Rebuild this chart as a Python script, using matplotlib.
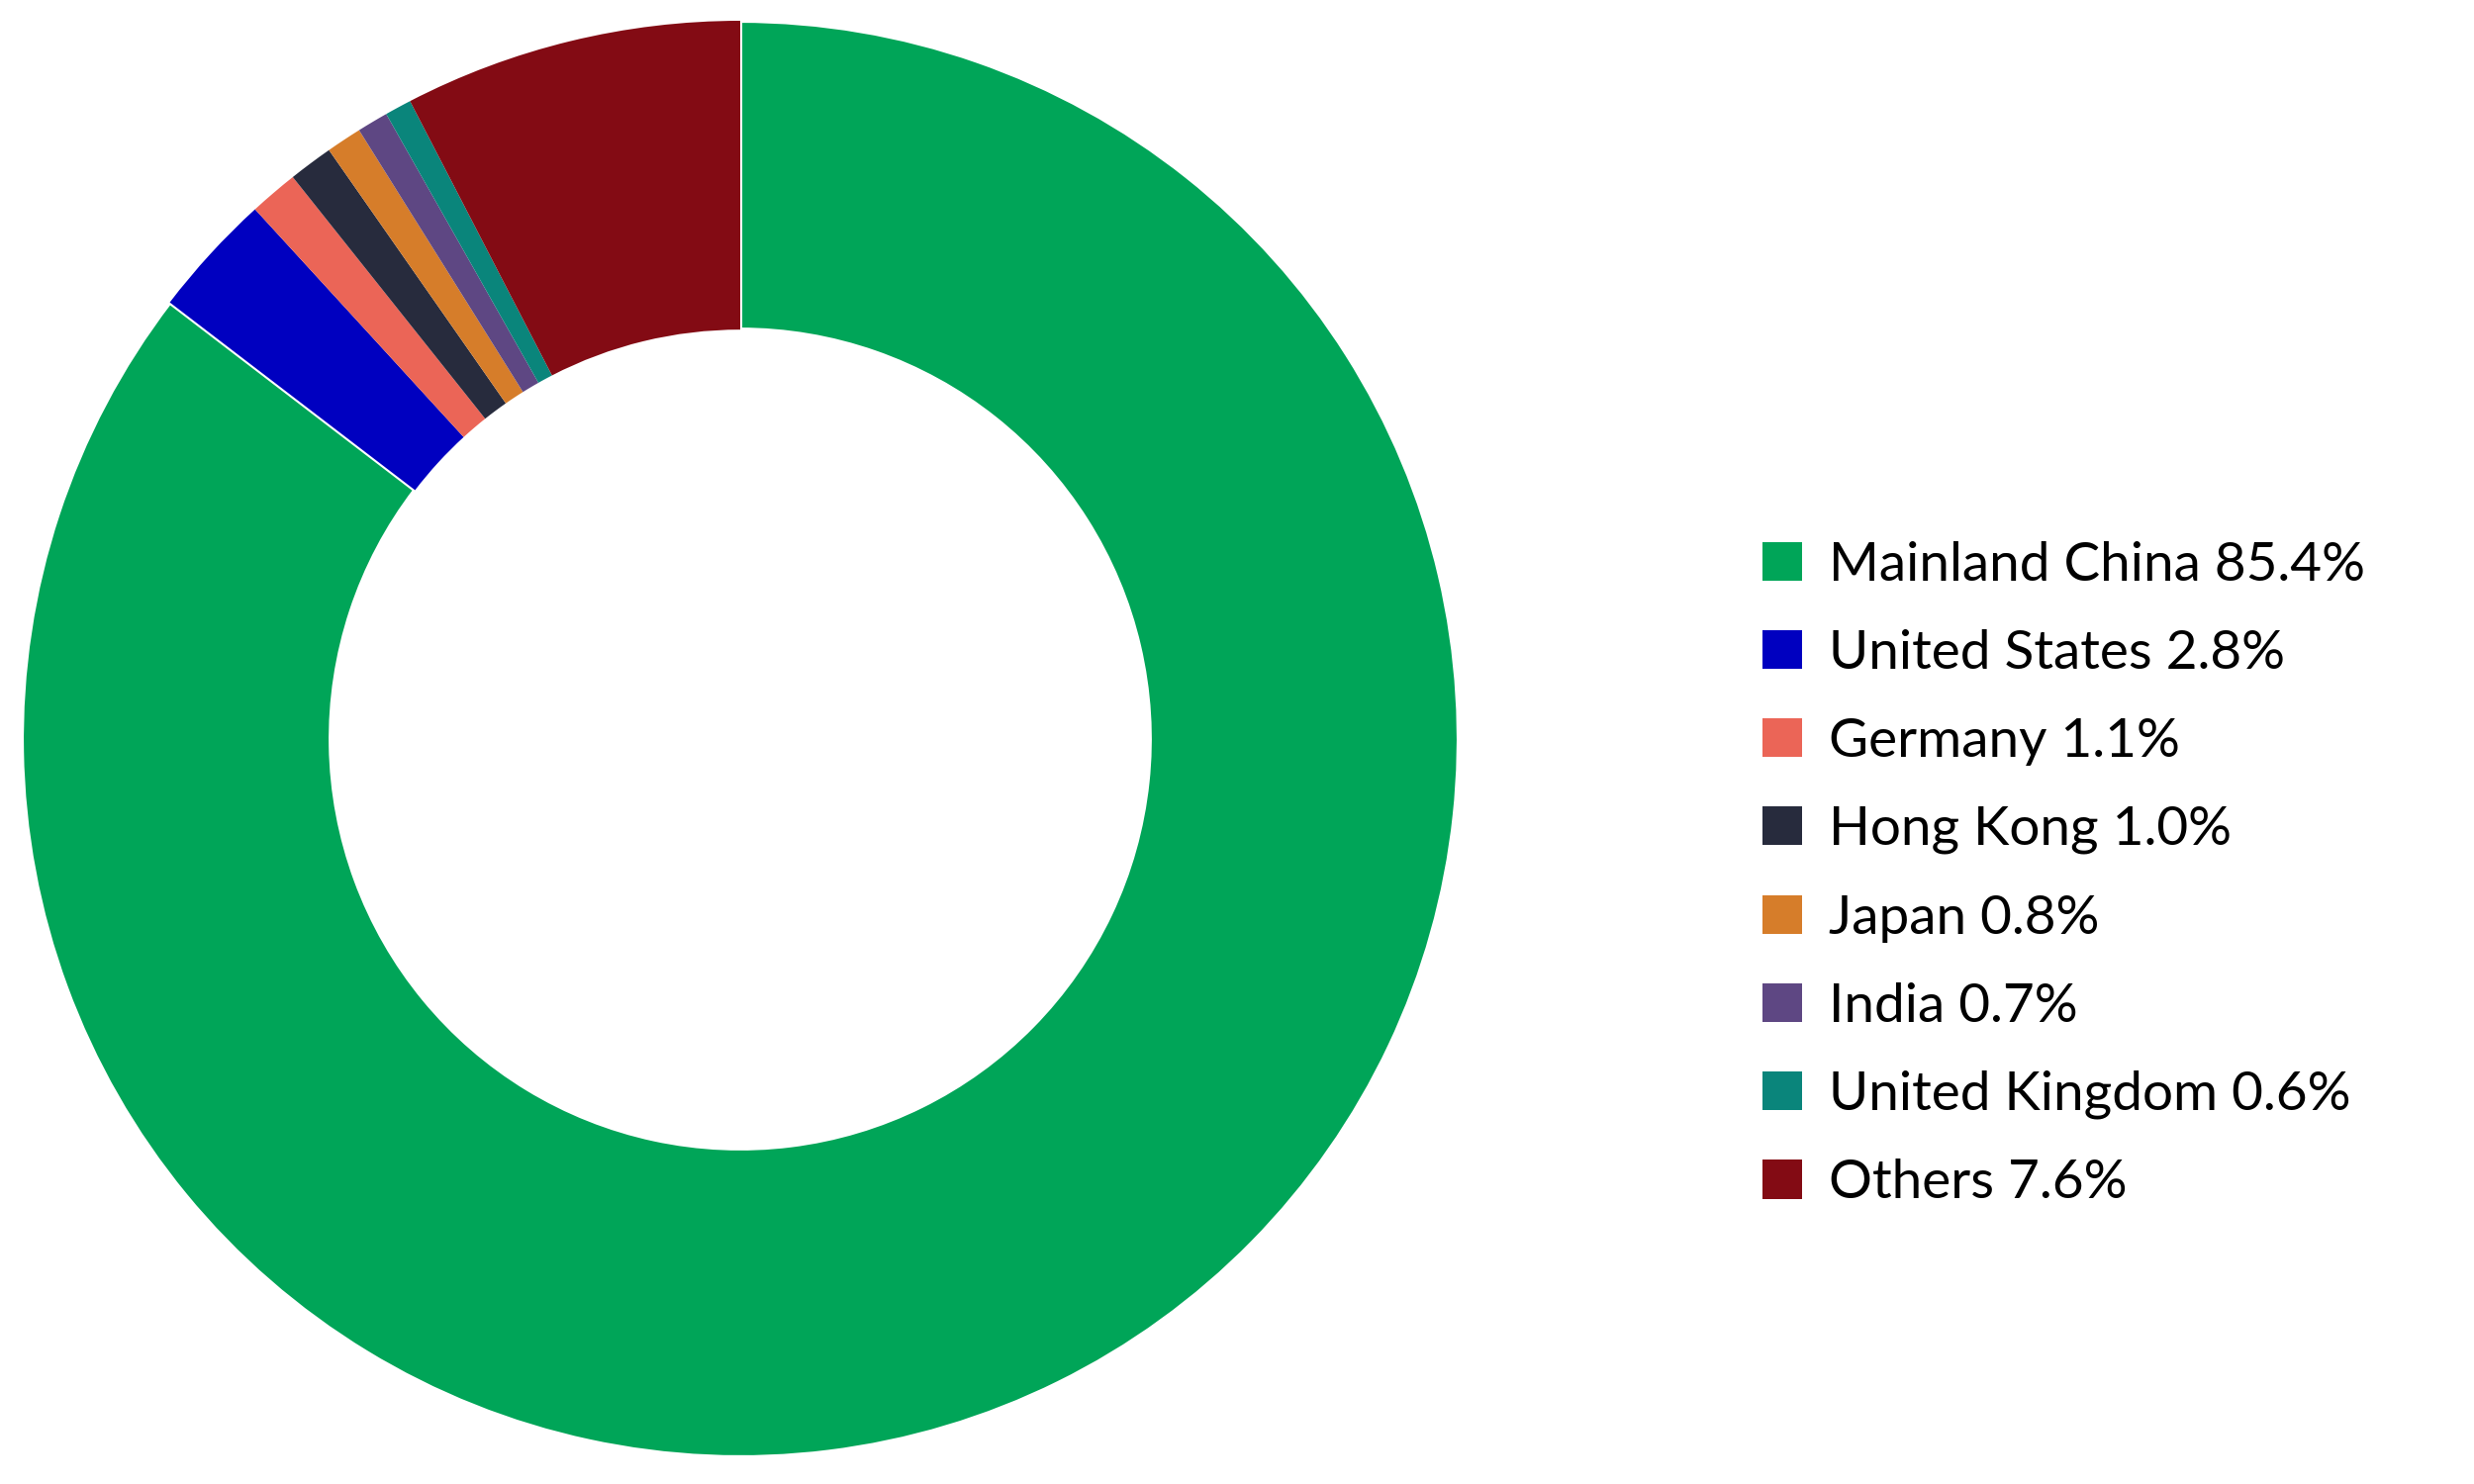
import matplotlib
matplotlib.use("Agg")
import matplotlib.pyplot as plt
from matplotlib.patches import Patch

countries = ["Mainland China", "United States", "Germany", "Hong Kong", "Japan",
             "India", "United Kingdom", "Others"]
shares = [85.4, 2.8, 1.1, 1.0, 0.8, 0.7, 0.6, 7.6]
colors = ["#00A558", "#0000C0", "#EB6557", "#272B3D", "#D67D2A",
          "#5E4783", "#0A857B", "#830B14"]

fig = plt.figure(figsize=(25, 15), dpi=100)
ax = fig.add_axes([22/2500, 27/1500, 1452/2500, 1452/1500])
wedges, _ = ax.pie(shares, colors=colors, startangle=90, counterclock=False,
                   radius=1.0, wedgeprops=dict(width=0.43, linewidth=0))
wedges[0].set_edgecolor("white")
wedges[0].set_linewidth(3)
ax.set_xlim(-1.0, 1.0)
ax.set_ylim(-1.0, 1.0)
ax.set_aspect("equal")
ax.axis("off")

labels = [f"{c} {v:.1f}%" for c, v in zip(countries, shares)]
handles = [Patch(facecolor=col, edgecolor="none") for col in colors]
fig.legend(handles, labels, loc="center left", bbox_to_anchor=(1781/2500, 0.411),
           frameon=False, prop=dict(family="Lato", size=39.5),
           handlelength=0.72, handleheight=0.72, handletextpad=0.5,
           labelspacing=0.73, borderpad=0, borderaxespad=0)

fig.savefig("out.png", dpi=100, facecolor="white")
